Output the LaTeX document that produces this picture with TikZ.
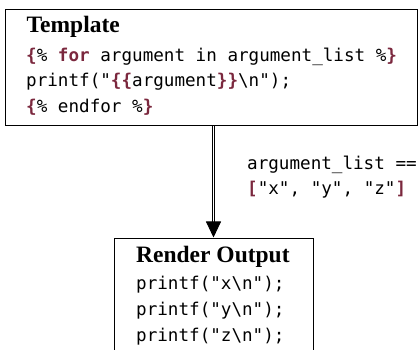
\documentclass[tikz,border=0pt]{standalone}
\usepackage{fontspec}
\setmainfont{Liberation Serif}
\setmonofont{DejaVu Sans Mono}
\usetikzlibrary{positioning,arrows.meta}

\definecolor{tagred}{RGB}{123,40,62}
\newcommand{\tagmark}[1]{\textcolor{tagred}{\bfseries #1}}

\tikzset{
  box/.style={draw, line width=1pt, inner sep=0pt},
  heading/.style={anchor=base west, inner sep=0pt, font=\fontsize{23.5}{28}\selectfont\bfseries},
  code/.style={anchor=base west, inner sep=0pt, font=\fontsize{17.6}{21}\selectfont\ttfamily},
}

\begin{document}
\begin{tikzpicture}[x=1pt,y=-1pt]
\useasboundingbox (0,0) rectangle (418,350);
\clip (0,0) rectangle (418,350);

% boxes
\node[box, minimum width=412pt, minimum height=116pt] (template) at (211,68) {};
\node[box, minimum width=199pt, minimum height=130pt] (render) at (213.5,303) {};

% template text
\node[heading] (tpltitle) at (26.5,33) {Template};
\node[code] (tplfor) at (26,62) {\tagmark{\{}\% \tagmark{for} argument in argument\_list \%\tagmark{\}}};
\node[code] (tplprint) at (26,87) {printf("\tagmark{\{\{}argument\tagmark{\}\}}\textbackslash n");};
\node[code] (tplend) at (26,113) {\tagmark{\{}\% endfor \%\tagmark{\}}};

% rendered text
\node[heading] (outtitle) at (136,262) {Render Output};
\node[code] (outx) at (136,289) {printf("x\textbackslash n");};
\node[code] (outy) at (136,315) {printf("y\textbackslash n");};
\node[code] (outz) at (136,341) {printf("z\textbackslash n");};

% arrow with its label
\draw[double, double distance=1.8pt, line width=0.9pt, -{Triangle[length=16pt,width=15pt]}]
  (render.north |- template.south) -- (render.north);
\node[code] (listname) at (247,170) {argument\_list ==};
\node[code] (listvalue) at (247,195) {\tagmark{[}"x", "y", "z"\tagmark{]}};

\end{tikzpicture}
\end{document}
